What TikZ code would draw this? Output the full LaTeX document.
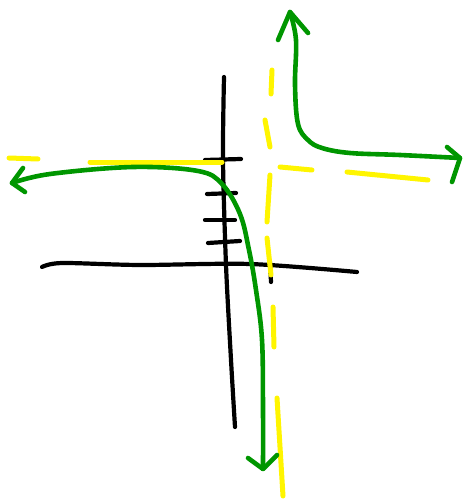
\documentclass[tikz,border=0pt]{standalone}
\usepackage{tikz}
\usetikzlibrary{calc}
\definecolor{stiftgruen}{RGB}{0,150,0}
\definecolor{stiftgelb}{RGB}{255,245,0}
\tikzset{
  achse/.style={draw=black, line width=4.2pt, line cap=round, line join=round},
  asymptote/.style={draw=stiftgelb, line width=5pt, line cap=round},
  zweig/.style={draw=stiftgruen, line width=4.6pt, line cap=round, line join=round},
}

\begin{document}
\begin{tikzpicture}[x=1pt, y=-1pt]
  \useasboundingbox (0,0) rectangle (464,500);
  % Achsen
  \draw[achse] plot[smooth] coordinates {(42,267) (62,263) (140,265) (250,264) (357,272)};
  \draw[achse] plot[smooth] coordinates {(224,77) (223,160) (226,265) (231,360) (235,427)};
  \draw[achse] (205,160) -- (241,159);
  \draw[achse] (207,194) -- (236,193);
  \draw[achse] (205,220) -- (235,220);
  \draw[achse] (208,243) -- (240,241);
  \draw[achse] (270,262) -- (271,282);
  % Asymptoten
  \draw[asymptote] (9,158) -- (38,159);
  \draw[asymptote] (90,162) -- (222,162);
  \draw[asymptote] (280,167) -- (312,170);
  \draw[asymptote] (347,172) -- (428,180);
  \draw[asymptote] (272,70) -- (271,94);
  \draw[asymptote] (265,120) -- (270,147);
  \draw[asymptote] (270,175) -- (267,222);
  \draw[asymptote] (267,238) -- (271,275);
  \draw[asymptote] (273,307) -- (274,347);
  \draw[asymptote] (277,398) -- (283,496);
  % Zweige
  \coordinate (linksspitze) at (12,183);
  \coordinate (untenspitze) at (263,469);
  \coordinate (obenspitze) at (290,12);
  \coordinate (rechtsspitze) at (460,158);
  \draw[zweig] plot[smooth, tension=0.6] coordinates {(linksspitze) (50,174) (133,167) (198,171) (222,184) (240,214) (249,250) (256,290) (262,340) (263,410) (untenspitze)};
  \draw[zweig] (23,168) -- (linksspitze) -- (25,192);
  \draw[zweig] (248,458) -- (untenspitze) -- (277,455);
  \draw[zweig] plot[smooth, tension=0.6] coordinates {(obenspitze) (296,40) (295,85) (298,124) (308,140) (322,148) (350,153) (400,155) (rechtsspitze)};
  \draw[zweig] (278,40) -- (obenspitze) -- (308,33);
  \draw[zweig] (447,147) -- (rechtsspitze) -- (452,182);
\end{tikzpicture}
\end{document}
